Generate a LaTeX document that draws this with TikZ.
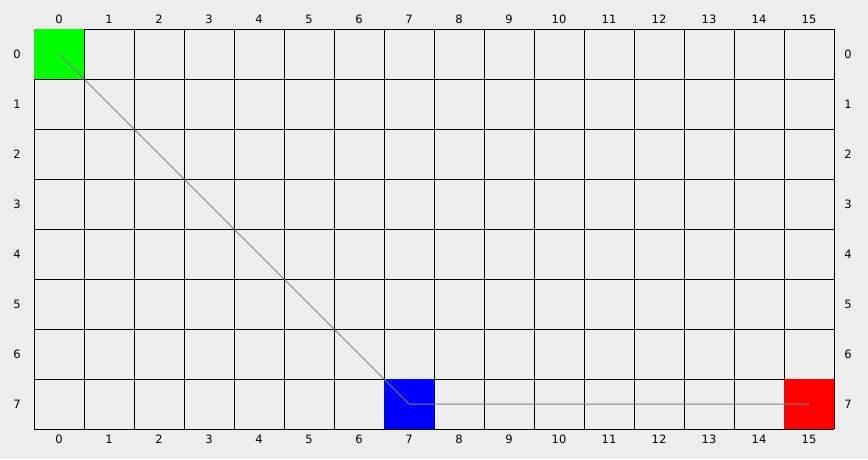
\documentclass[tikz,border=0pt]{standalone}
\usepackage{fontspec}
\setmainfont{DejaVu Sans}
\definecolor{bgcol}{RGB}{238,238,238}
\definecolor{pathcol}{RGB}{128,128,128}
\definecolor{startcol}{RGB}{0,255,0}
\definecolor{midcol}{RGB}{0,0,255}
\definecolor{goalcol}{RGB}{255,0,0}
\begin{document}
\begin{tikzpicture}[x=1pt,y=-1pt,
  lab/.style={font=\fontsize{11.5}{13}\selectfont, inner sep=0pt, text=black},
  gridline/.style={black, line width=1pt},
  pathline/.style={draw=pathcol, line width=1pt},
  cellfill/.style={inner sep=0pt, minimum size=50pt, draw=none}]
\fill[bgcol] (0,0) rectangle (868,459);
\useasboundingbox (0,0) rectangle (868,459);
% grid
\foreach \i in {0,...,16} { \draw[gridline] (34+50*\i,29) -- (34+50*\i,429); }
\foreach \j in {0,...,8} { \draw[gridline] (34,29+50*\j) -- (834,29+50*\j); }
% labels
\foreach \i in {0,...,15} {
  \node[lab] (top\i) at (59+50*\i,19) {\i};
  \node[lab] (bot\i) at (59+50*\i,439) {\i};
}
\foreach \j in {0,...,7} {
  \node[lab] (left\j) at (17,54+50*\j) {\j};
  \node[lab] (right\j) at (848,54+50*\j) {\j};
}
% coloured cells
\node[cellfill, fill=startcol] (start) at (58.5,53.5) {};
\node[cellfill, fill=midcol] (mid) at (408.5,403.5) {};
\node[cellfill, fill=goalcol] (goal) at (808.5,403.5) {};
\coordinate (c0) at (59,54);
\coordinate (c1) at (409,404);
\coordinate (c2) at (809,404);
\draw[pathline] (c0) -- (c1) -- (c2);
\end{tikzpicture}
\end{document}
